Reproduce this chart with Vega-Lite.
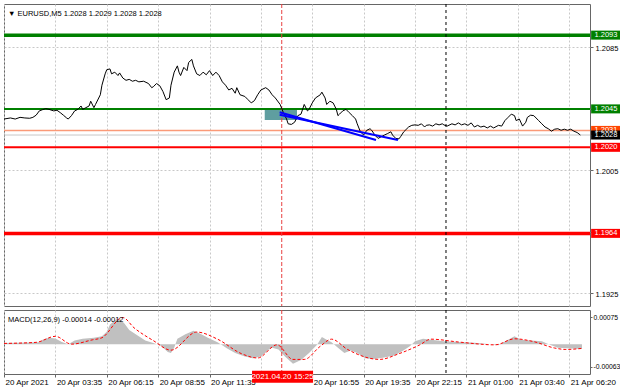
{
  "$schema": "https://vega.github.io/schema/vega-lite/v6.json",
  "background": "white",
  "padding": {"left": 1, "top": 3, "right": 0, "bottom": 0},
  "spacing": 2,
  "config": {
    "font": "Liberation Sans",
    "view": {"stroke": "#666666", "strokeWidth": 1},
    "axis": {"labelFont": "Liberation Sans", "labelFontSize": 7.5, "labelColor": "#000000", "gridColor": "#C8C8C8", "gridDash": [2, 2], "gridWidth": 1, "tickColor": "#666666", "domain": false, "title": null, "labelOverlap": false, "labelFlush": false, "labelBound": false, "grid": false, "ticks": false, "labels": false, "zindex": 0}
  },
  "datasets": {
    "price": [
      {"i":0,"p":1.20384},{"i":4,"p":1.20391},{"i":7,"p":1.20384},{"i":10,"p":1.20395},{"i":13,"p":1.20391},{"i":16,"p":1.20389},{"i":18,"p":1.20395},{"i":20,"p":1.20409},{"i":22,"p":1.20437},{"i":24,"p":1.20445},{"i":26,"p":1.20452},{"i":28,"p":1.20447},{"i":31,"p":1.20437},{"i":33,"p":1.20441},{"i":35,"p":1.20426},{"i":37,"p":1.20409},{"i":39,"p":1.20391},{"i":40,"p":1.20384},{"i":42,"p":1.20406},{"i":44,"p":1.20437},{"i":46,"p":1.20447},{"i":48,"p":1.20469},{"i":49,"p":1.20447},{"i":51,"p":1.20458},{"i":53,"p":1.20469},{"i":54,"p":1.2050},{"i":56,"p":1.20458},{"i":57,"p":1.20479},{"i":60,"p":1.20542},{"i":61,"p":1.20604},{"i":63,"p":1.20678},{"i":64,"p":1.20705},{"i":66,"p":1.20710},{"i":67,"p":1.20678},{"i":69,"p":1.20689},{"i":71,"p":1.20667},{"i":72,"p":1.20684},{"i":74,"p":1.20651},{"i":76,"p":1.20636},{"i":78,"p":1.20642},{"i":80,"p":1.2063},{"i":82,"p":1.20636},{"i":84,"p":1.20626},{"i":87,"p":1.2063},{"i":90,"p":1.20615},{"i":92,"p":1.20588},{"i":93,"p":1.20594},{"i":95,"p":1.20615},{"i":97,"p":1.20601},{"i":99,"p":1.20563},{"i":101,"p":1.2051},{"i":103,"p":1.20521},{"i":104,"p":1.20604},{"i":106,"p":1.20689},{"i":108,"p":1.2073},{"i":109,"p":1.20689},{"i":110,"p":1.20667},{"i":112,"p":1.2072},{"i":114,"p":1.20699},{"i":115,"p":1.20752},{"i":117,"p":1.20772},{"i":118,"p":1.2073},{"i":120,"p":1.20678},{"i":122,"p":1.20667},{"i":124,"p":1.20689},{"i":126,"p":1.20672},{"i":128,"p":1.20699},{"i":130,"p":1.20667},{"i":132,"p":1.20689},{"i":134,"p":1.20667},{"i":136,"p":1.20626},{"i":138,"p":1.20604},{"i":140,"p":1.20573},{"i":142,"p":1.20584},{"i":144,"p":1.20552},{"i":145,"p":1.20588},{"i":147,"p":1.20542},{"i":150,"p":1.20531},{"i":152,"p":1.2051},{"i":154,"p":1.20489},{"i":156,"p":1.20504},{"i":158,"p":1.20542},{"i":160,"p":1.20573},{"i":163,"p":1.20588},{"i":165,"p":1.20573},{"i":167,"p":1.20542},{"i":169,"p":1.20521},{"i":172,"p":1.20479},{"i":174,"p":1.20426},{"i":176,"p":1.20384},{"i":177,"p":1.20353},{"i":179,"p":1.20349},{"i":181,"p":1.20363},{"i":183,"p":1.20406},{"i":185,"p":1.20416},{"i":187,"p":1.20479},{"i":189,"p":1.20437},{"i":190,"p":1.20447},{"i":192,"p":1.20489},{"i":194,"p":1.20521},{"i":197,"p":1.20542},{"i":198,"p":1.20559},{"i":200,"p":1.20521},{"i":201,"p":1.20479},{"i":203,"p":1.2050},{"i":205,"p":1.20489},{"i":207,"p":1.20447},{"i":208,"p":1.20406},{"i":209,"p":1.20416},{"i":211,"p":1.20437},{"i":213,"p":1.20447},{"i":215,"p":1.20426},{"i":217,"p":1.20406},{"i":219,"p":1.20384},{"i":220,"p":1.20353},{"i":222,"p":1.20301},{"i":224,"p":1.2028},{"i":226,"p":1.20311},{"i":228,"p":1.20321},{"i":229,"p":1.20311},{"i":231,"p":1.2028},{"i":233,"p":1.20258},{"i":235,"p":1.20269},{"i":237,"p":1.2028},{"i":239,"p":1.2029},{"i":241,"p":1.20301},{"i":242,"p":1.2028},{"i":244,"p":1.20258},{"i":246,"p":1.20255},{"i":247,"p":1.20269},{"i":249,"p":1.20301},{"i":252,"p":1.20332},{"i":254,"p":1.20343},{"i":256,"p":1.20346},{"i":258,"p":1.20343},{"i":260,"p":1.20353},{"i":262,"p":1.20332},{"i":263,"p":1.20343},{"i":265,"p":1.20346},{"i":267,"p":1.20338},{"i":269,"p":1.20353},{"i":271,"p":1.20346},{"i":273,"p":1.20353},{"i":274,"p":1.20346},{"i":276,"p":1.20338},{"i":279,"p":1.20353},{"i":281,"p":1.20346},{"i":283,"p":1.20359},{"i":285,"p":1.20346},{"i":287,"p":1.20353},{"i":289,"p":1.20343},{"i":291,"p":1.20359},{"i":293,"p":1.20332},{"i":295,"p":1.20343},{"i":297,"p":1.20332},{"i":299,"p":1.20338},{"i":301,"p":1.20326},{"i":303,"p":1.20338},{"i":305,"p":1.20326},{"i":308,"p":1.20343},{"i":310,"p":1.20338},{"i":312,"p":1.20374},{"i":314,"p":1.20395},{"i":316,"p":1.20416},{"i":318,"p":1.20406},{"i":319,"p":1.20374},{"i":321,"p":1.20384},{"i":323,"p":1.20338},{"i":325,"p":1.20363},{"i":326,"p":1.20395},{"i":328,"p":1.20409},{"i":330,"p":1.20406},{"i":333,"p":1.20374},{"i":335,"p":1.20353},{"i":337,"p":1.20332},{"i":339,"p":1.20321},{"i":341,"p":1.20305},{"i":343,"p":1.20318},{"i":345,"p":1.20321},{"i":347,"p":1.20311},{"i":349,"p":1.20318},{"i":351,"p":1.20311},{"i":353,"p":1.20318},{"i":355,"p":1.20305},{"i":357,"p":1.20296},{"i":359,"p":1.2028}
    ],
    "hist": [
      {"i":0,"h":0.00003},{"i":9,"h":0.00004},{"i":22,"h":0.00005},{"i":24,"h":0.00012},{"i":28,"h":0.00018},{"i":32,"h":0.00016},{"i":36,"h":0.00006},{"i":40,"h":0.0},{"i":44,"h":0.0001},{"i":49,"h":0.00015},{"i":56,"h":0.00018},{"i":61,"h":0.00022},{"i":64,"h":0.00035},{"i":66,"h":0.00055},{"i":70,"h":0.0007},{"i":72,"h":0.00072},{"i":75,"h":0.00058},{"i":78,"h":0.0004},{"i":83,"h":0.00025},{"i":88,"h":0.0001},{"i":93,"h":0.00003},{"i":98,"h":-0.00005},{"i":102,"h":-0.00022},{"i":104,"h":-0.00025},{"i":106,"h":-0.0001},{"i":108,"h":0.00015},{"i":113,"h":0.00028},{"i":118,"h":0.00038},{"i":122,"h":0.0003},{"i":127,"h":0.00018},{"i":133,"h":0.00005},{"i":135,"h":0.0},{"i":139,"h":-0.00012},{"i":144,"h":-0.00025},{"i":150,"h":-0.00035},{"i":155,"h":-0.0004},{"i":160,"h":-0.00035},{"i":165,"h":-0.00015},{"i":167,"h":-0.0001},{"i":171,"h":-0.00015},{"i":175,"h":-0.00035},{"i":180,"h":-0.00055},{"i":185,"h":-0.00045},{"i":190,"h":-0.00025},{"i":195,"h":-0.00002},{"i":198,"h":0.0002},{"i":201,"h":0.00012},{"i":204,"h":0.00005},{"i":208,"h":-0.0001},{"i":212,"h":-0.00025},{"i":216,"h":-0.00018},{"i":220,"h":-0.00025},{"i":225,"h":-0.0004},{"i":230,"h":-0.00042},{"i":236,"h":-0.00038},{"i":243,"h":-0.00032},{"i":248,"h":-0.0002},{"i":253,"h":-0.00005},{"i":256,"h":0.00008},{"i":261,"h":0.00015},{"i":266,"h":0.00012},{"i":274,"h":0.00008},{"i":283,"h":0.00006},{"i":293,"h":0.00004},{"i":303,"h":0.0},{"i":308,"h":-0.00003},{"i":313,"h":0.0001},{"i":318,"h":0.00022},{"i":322,"h":0.00012},{"i":328,"h":0.0001},{"i":335,"h":0.00008},{"i":340,"h":-0.00002},{"i":345,"h":-0.0001},{"i":353,"h":-0.00012},{"i":360,"h":-0.00014}
    ],
    "signal": [
      {"i":0,"s":0.00002},{"i":20,"s":0.00005},{"i":32,"s":0.00022},{"i":42,"s":0.0},{"i":55,"s":0.00012},{"i":61,"s":0.00018},{"i":74,"s":0.00075},{"i":81,"s":0.00046},{"i":93,"s":0.0001},{"i":104,"s":-0.00017},{"i":120,"s":0.00034},{"i":133,"s":0.00014},{"i":148,"s":-0.00027},{"i":158,"s":-0.00039},{"i":170,"s":-0.00002},{"i":180,"s":-0.00043},{"i":187,"s":-0.00043},{"i":197,"s":-0.00006},{"i":204,"s":0.00014},{"i":214,"s":-0.00015},{"i":234,"s":-0.00043},{"i":246,"s":-0.00027},{"i":259,"s":-0.00002},{"i":266,"s":0.00014},{"i":283,"s":0.00006},{"i":306,"s":-0.00002},{"i":318,"s":0.00015},{"i":330,"s":0.00007},{"i":343,"s":-0.00011},{"i":350,"s":-0.00015},{"i":360,"s":-0.00012}
    ],
    "levels": [
      {"price":1.2028,"kind":"bid","label":"1.2028"},
      {"price":1.2093,"kind":"R2","label":"1.2093"},
      {"price":1.2045,"kind":"R1","label":"1.2045"},
      {"price":1.2031,"kind":"T","label":"1.2031"},
      {"price":1.2020,"kind":"S1","label":"1.2020"},
      {"price":1.1964,"kind":"S2","label":"1.1964"}
    ],
    "tags": [
      {"price":1.2093,"kind":"R2","label":"1.2093"},
      {"price":1.2045,"kind":"R1","label":"1.2045"},
      {"price":1.2031,"kind":"T","label":"1.2031"},
      {"price":1.2028,"kind":"bid","label":"1.2028"},
      {"price":1.2020,"kind":"S1","label":"1.2020"},
      {"price":1.1964,"kind":"S2","label":"1.1964"}
    ],
    "box": [{"i1":162.4,"i2":182.5,"p1":1.20447,"p2":1.20378}],
    "trend": [
      {"seg":"a","i":171.7,"p":1.20428},{"seg":"a","i":231.7,"p":1.20248},
      {"seg":"b","i":171.7,"p":1.20412},{"seg":"b","i":245.4,"p":1.20248}
    ]
  },
  "vconcat": [
    {
      "width": 586,
      "height": 302,
      "layer": [
        {
          "data": {"name": "box"},
          "mark": {"type": "rect", "color": "#5F9EA0"},
          "encoding": {
            "x": {"field": "i1", "type": "quantitative", "scale": {"domain": [0, 365], "nice": false, "zero": false}, "axis": {"values": [0,16,32,48,64,80,96,112,128,144,160,176,192,208,224,240,256,272,288,304,320,336,352], "labels": false, "ticks": false, "grid": true}},
            "x2": {"field": "i2"},
            "y": {"field": "p1", "type": "quantitative", "scale": {"domain": [1.192, 1.211], "nice": false, "zero": false}, "axis": {"orient": "right", "values": [1.1925,1.1945,1.1965,1.1985,1.2005,1.2025,1.2045,1.2065,1.2085,1.2105], "format": ".4f", "grid": true, "labels": true, "ticks": true, "tickSize": 3, "labelPadding": 2, "labelOffset": 1}},
            "y2": {"field": "p2"}
          }
        },
        {
          "data": {"name": "levels"},
          "transform": [{"filter": "datum.kind == 'bid'"}],
          "mark": {"type": "rule", "color": "#C8C8C8", "strokeWidth": 1},
          "encoding": {"y": {"field": "price", "type": "quantitative"}}
        },
        {
          "data": {"name": "levels"},
          "transform": [{"filter": "datum.kind == 'T'"}],
          "mark": {"type": "rule", "color": "#FA9A78", "strokeWidth": 1.5},
          "encoding": {"y": {"field": "price", "type": "quantitative"}}
        },
        {
          "data": {"name": "levels"},
          "transform": [{"filter": "datum.kind == 'R1'"}],
          "mark": {"type": "rule", "color": "#008000", "strokeWidth": 2},
          "encoding": {"y": {"field": "price", "type": "quantitative"}}
        },
        {
          "data": {"name": "levels"},
          "transform": [{"filter": "datum.kind == 'R2'"}],
          "mark": {"type": "rule", "color": "#008000", "strokeWidth": 3.5},
          "encoding": {"y": {"field": "price", "type": "quantitative"}}
        },
        {
          "data": {"name": "levels"},
          "transform": [{"filter": "datum.kind == 'S1'"}],
          "mark": {"type": "rule", "color": "#FF0000", "strokeWidth": 2},
          "encoding": {"y": {"field": "price", "type": "quantitative"}}
        },
        {
          "data": {"name": "levels"},
          "transform": [{"filter": "datum.kind == 'S2'"}],
          "mark": {"type": "rule", "color": "#FF0000", "strokeWidth": 3.5},
          "encoding": {"y": {"field": "price", "type": "quantitative"}}
        },
        {
          "data": {"values": [{}]},
          "mark": {"type": "rule", "color": "#E84040", "strokeDash": [4, 2], "strokeWidth": 1},
          "encoding": {"x": {"datum": 173, "type": "quantitative"}}
        },
        {
          "data": {"values": [{}]},
          "mark": {"type": "rule", "color": "#000000", "strokeDash": [3, 3], "strokeWidth": 1},
          "encoding": {"x": {"datum": 275.3, "type": "quantitative"}}
        },
        {
          "data": {"name": "price"},
          "mark": {"type": "line", "color": "#000000", "strokeWidth": 1},
          "encoding": {
            "x": {"field": "i", "type": "quantitative"},
            "y": {"field": "p", "type": "quantitative"}
          }
        },
        {
          "data": {"name": "trend"},
          "mark": {"type": "line", "color": "#0000FF", "strokeWidth": 2},
          "encoding": {
            "x": {"field": "i", "type": "quantitative"},
            "y": {"field": "p", "type": "quantitative"},
            "detail": {"field": "seg"}
          }
        },
        {
          "data": {"name": "tags"},
          "mark": {"type": "bar", "orient": "horizontal", "size": 9},
          "encoding": {
            "x": {"datum": 365.7, "type": "quantitative"},
            "x2": {"datum": 384},
            "y": {"field": "price", "type": "quantitative"},
            "color": {"field": "kind", "type": "nominal", "legend": null, "scale": {"domain": ["bid", "R2", "R1", "T", "S1", "S2"], "range": ["#000000", "#008000", "#008000", "#FF4500", "#FF0000", "#FF0000"]}},
            "order": {"field": "price", "sort": "descending"}
          }
        },
        {
          "data": {"name": "tags"},
          "mark": {"type": "text", "align": "left", "baseline": "middle", "color": "#FFFFFF", "fontSize": 7.5, "font": "Liberation Sans"},
          "encoding": {
            "x": {"datum": 367.8, "type": "quantitative"},
            "y": {"field": "price", "type": "quantitative"},
            "text": {"field": "label"},
            "order": {"field": "price", "sort": "descending"}
          }
        },
        {
          "data": {"values": [{"t": "▼  EURUSD,M5  1.2028 1.2029 1.2028 1.2028"}]},
          "mark": {"type": "text", "align": "left", "baseline": "middle", "color": "#000000", "fontSize": 7.5, "font": "Liberation Sans"},
          "encoding": {
            "x": {"datum": 2.5, "type": "quantitative"},
            "y": {"datum": 1.21068, "type": "quantitative"},
            "text": {"field": "t"}
          }
        }
      ]
    },
    {
      "width": 586,
      "height": 64,
      "layer": [
        {
          "data": {"name": "hist"},
          "mark": {"type": "area", "color": "#C0C0C0"},
          "encoding": {
            "x": {"field": "i", "type": "quantitative", "scale": {"domain": [0, 365], "nice": false, "zero": false}, "axis": {"values": [0,16,32,48,64,80,96,112,128,144,160,176,192,208,224,240,256,272,288,304,320,336,352], "grid": true, "labels": true, "ticks": true, "tickSize": 3, "labelAlign": "left", "labelPadding": 1, "labelOffset": 1, "labelFontSize": 8, "labelExpr": "datum.value % 32 == 0 ? ['20 Apr 2021','20 Apr 03:35','20 Apr 06:15','20 Apr 08:55','20 Apr 11:35','','20 Apr 16:55','20 Apr 19:35','20 Apr 22:15','21 Apr 01:00','21 Apr 03:40','21 Apr 06:20'][datum.value / 32] : ''"}},
            "y": {"field": "h", "type": "quantitative", "scale": {"domain": [-0.0007, 0.00082], "nice": false, "zero": false}, "axis": {"orient": "right", "values": [0.00075, 0, -0.00063], "grid": false, "labels": true, "ticks": true, "tickSize": 2, "labelPadding": 1, "labelOffset": 0, "labelFontSize": 6.8, "labelExpr": "datum.value == 0 ? '0.00' : (datum.value < 0 ? '-' : '') + format(abs(datum.value), '.5f')"}},
            "y2": {"datum": 0}
          }
        },
        {
          "data": {"values": [{}]},
          "mark": {"type": "rule", "color": "#E84040", "strokeDash": [4, 2], "strokeWidth": 1},
          "encoding": {"x": {"datum": 173, "type": "quantitative"}}
        },
        {
          "data": {"values": [{}]},
          "mark": {"type": "rule", "color": "#000000", "strokeDash": [3, 3], "strokeWidth": 1},
          "encoding": {"x": {"datum": 275.3, "type": "quantitative"}}
        },
        {
          "data": {"name": "signal"},
          "mark": {"type": "line", "color": "#FF0000", "strokeWidth": 1, "strokeDash": [3, 2], "interpolate": "monotone"},
          "encoding": {
            "x": {"field": "i", "type": "quantitative"},
            "y": {"field": "s", "type": "quantitative"}
          }
        },
        {
          "data": {"values": [{"t": "MACD(12,26,9) -0.00014 -0.00012"}]},
          "mark": {"type": "text", "align": "left", "baseline": "middle", "color": "#000000", "fontSize": 7.5, "font": "Liberation Sans"},
          "encoding": {
            "x": {"datum": 2.5, "type": "quantitative"},
            "y": {"datum": 0.00068, "type": "quantitative"},
            "text": {"field": "t"}
          }
        },
        {
          "data": {"values": [{"t": "2021.04.20 15:25"}]},
          "mark": {"type": "bar", "orient": "horizontal", "size": 12, "color": "#FF0000"},
          "encoding": {
            "x": {"datum": 154.5, "type": "quantitative"},
            "x2": {"datum": 192.5},
            "y": {"datum": -0.00092, "type": "quantitative"}
          }
        },
        {
          "data": {"values": [{"t": "2021.04.20 15:25"}]},
          "mark": {"type": "text", "align": "center", "baseline": "middle", "color": "#FFFFFF", "fontSize": 8, "font": "Liberation Sans"},
          "encoding": {
            "x": {"datum": 173.5, "type": "quantitative"},
            "y": {"datum": -0.00092, "type": "quantitative"},
            "text": {"field": "t"}
          }
        }
      ]
    }
  ]
}
